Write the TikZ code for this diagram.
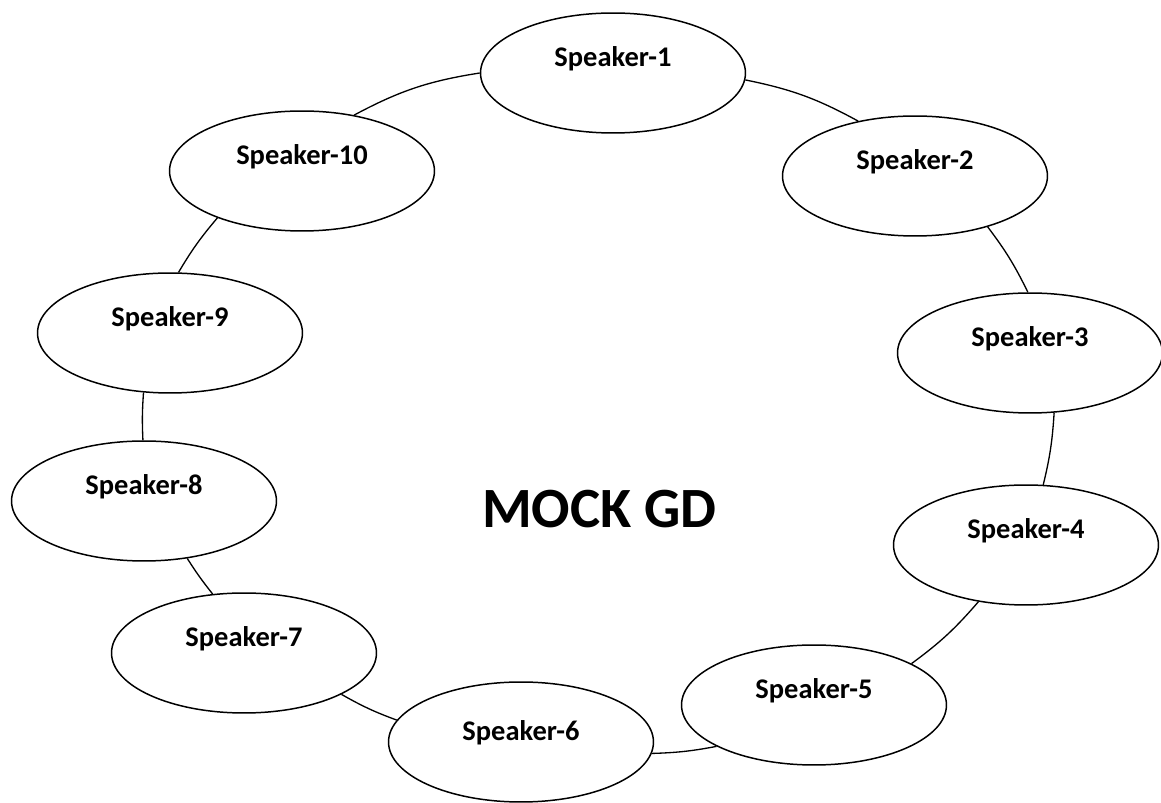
\documentclass[tikz,border=0pt]{standalone}
\usepackage{fontspec}
\setmainfont{Carlito}
\usetikzlibrary{shapes.geometric}
\tikzset{
  spk/.style={ellipse, draw, line width=0.85pt, fill=white, minimum width=5.3cm, minimum height=2.4cm, inner sep=0pt},
  spktext/.style={font=\fontsize{16.2}{19}\selectfont\bfseries, yshift=0.29cm},
  link/.style={line width=0.75pt},
}
\newcommand{\spkr}[4][]{\node[spk, label={[spktext,#1]center:#4}] (#2) at #3 {};}
\begin{document}
\begin{tikzpicture}[x=0.02cm, y=-0.02cm]
\useasboundingbox (0,0) rectangle (1161,803);
\spkr{s1}{(613,73)}{Speaker-1}
\spkr{s2}{(915,176)}{Speaker-2}
\spkr{s3}{(1030,353)}{Speaker-3}
\spkr{s4}{(1026,545)}{Speaker-4}
\spkr{s5}{(814,705)}{Speaker-5}
\spkr[yshift=-0.1cm]{s6}{(521,742)}{Speaker-6}
\spkr{s7}{(244,653)}{Speaker-7}
\spkr{s8}{(144,501)}{Speaker-8}
\spkr{s9}{(170,333)}{Speaker-9}
\spkr{s10}{(302,171)}{Speaker-10}
\node[font=\fontsize{32.4}{38}\selectfont\bfseries, inner sep=0pt, anchor=base east] (title) at (717,528) {MOCK GD};
\draw[link] (s1.-3) to[bend left=8.6] (s2.136.5);
\draw[link] (s2.-35) to[bend left=5.5] (s3.92);
\draw[link] (s3.-68) to[bend left=5] (s4.74);
\draw[link] (s4.-130) to[bend left=6.5] (s5.23.6);
\draw[link] (s5.-157) to[bend left=4.5] (s6.-5.2);
\draw[link] (s6.170.6) to[bend left=4.7] (s7.-23.6);
\draw[link] (s7.118) to[bend left=3] (s8.-53);
\draw[link] (s8.91) to[bend left=3.4] (s9.-114);
\draw[link] (s9.82) to[bend left=4.8] (s10.-151);
\draw[link] (s10.47) to[bend left=9.6] (s1.180);
\end{tikzpicture}
\end{document}
